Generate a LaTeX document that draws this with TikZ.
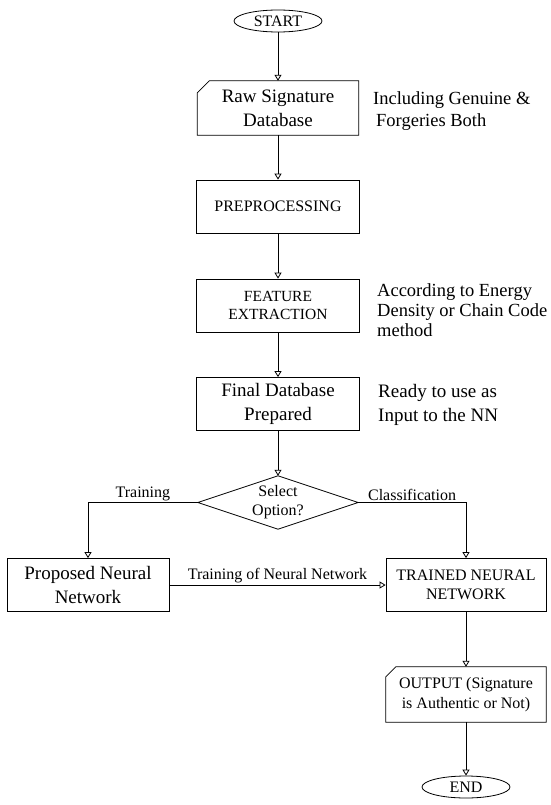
\documentclass[tikz,border=0pt]{standalone}
\usepackage{fontspec}
\setmainfont{Liberation Serif}
\usetikzlibrary{shapes.geometric,arrows.meta}
\tikzset{
  ln/.style={line width=0.8pt},
  stepbox/.style={draw, ln, minimum width=163pt, minimum height=53pt, inner sep=0pt, align=center},
  cardbox/.style={minimum width=161pt, minimum height=54pt, inner sep=0pt, align=center},
  term/.style={draw, ln, ellipse, minimum width=88pt, minimum height=22pt, inner sep=0pt, font=\fontsize{16}{19}\selectfont},
  ann/.style={align=left, anchor=west, inner sep=0pt},
  arr/.style={ln, -{Triangle[open, length=6pt, width=7pt]}},
  big/.style={font=\fontsize{19}{24}\selectfont},
  caps/.style={font=\fontsize{16}{19}\selectfont},
  lab/.style={font=\fontsize{16}{19}\selectfont, inner sep=1pt}
}
\begin{document}
\begin{tikzpicture}[x=1pt,y=-1pt]
\useasboundingbox[fill=white] (0,0) rectangle (550,805);

\node[term] (start) at (278,21) {START};
\node[cardbox, big] (raw) at (278,108) {Raw Signature\\Database};
\draw[ln] ([xshift=12pt]raw.north west) -- (raw.north east) -- (raw.south east) -- (raw.south west) -- ([yshift=-12pt]raw.north west) -- cycle;
\node[ann, font=\fontsize{18.5}{22}\selectfont] (a1) at (373,111) {Including Genuine \&\\\hspace{3pt}Forgeries Both};

\node[stepbox, caps] (pre) at (278,206.5) {PREPROCESSING};

\node[stepbox, font=\fontsize{15.5}{18.5}\selectfont] (feat) at (278,305.5) {FEATURE\\EXTRACTION};
\node[ann, font=\fontsize{18.5}{20}\selectfont] (a2) at (377,310) {According to Energy\\Density or Chain Code\\method};

\node[stepbox, big] (final) at (278,404) {Final Database\\Prepared};
\node[ann, big] (a3) at (378,405) {Ready to use as\\Input to the NN};

\node[minimum width=160pt, minimum height=53pt, inner sep=0pt, align=center, caps] (dia) at (278,502.5) {Select\\Option?};
\draw[ln] (dia.north) -- (dia.east) -- (dia.south) -- (dia.west) -- cycle;

\node[stepbox, big, minimum width=162pt] (prop) at (88,585) {Proposed Neural\\Network};
\node[stepbox, caps, minimum width=160pt] (trained) at (466,585) {TRAINED NEURAL\\NETWORK};

\node[cardbox, minimum width=160pt, minimum height=55pt, font=\fontsize{16}{20}\selectfont] (out) at (466,694.5) {OUTPUT (Signature\\is Authentic or Not)};
\draw[ln] ([xshift=10pt]out.north west) -- (out.north east) -- (out.south east) -- (out.south west) -- ([yshift=-10pt]out.north west) -- cycle;

\node[term] (endn) at (466,787) {END};

\draw[arr] (start) -- (raw);
\draw[arr] (raw) -- (pre);
\draw[arr] (pre) -- (feat);
\draw[arr] (feat) -- (final);
\draw[arr] (final) -- (dia.north);
\draw[arr] (dia.west) -| node[pos=0.25, above, lab] {Training} (prop.north);
\draw[arr] (dia.east) -| node[pos=0.25, above, lab] {Classification} (trained.north);
\draw[arr] (prop) -- node[above, lab, yshift=1pt] {Training of Neural Network} (trained);
\draw[arr] (trained) -- (out);
\draw[arr] (out) -- (endn);
\end{tikzpicture}
\end{document}
